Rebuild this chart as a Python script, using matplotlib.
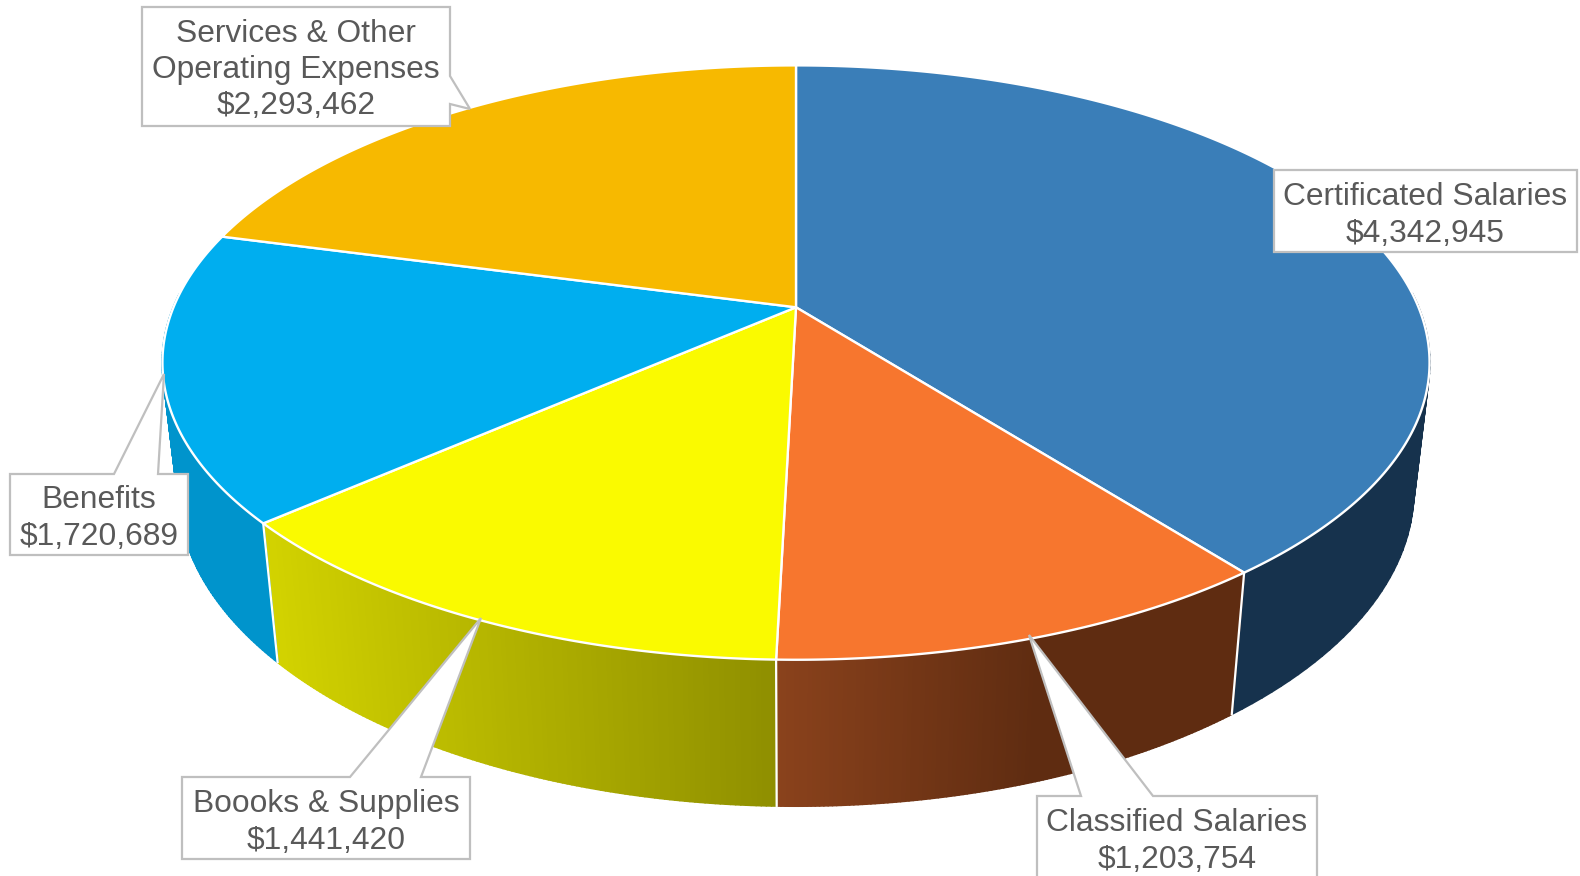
import numpy as np
import matplotlib
matplotlib.use("Agg")
import matplotlib.pyplot as plt
from matplotlib.collections import PolyCollection
from matplotlib.colors import to_rgb

plt.rcParams['font.family'] = ['Liberation Sans', 'DejaVu Sans']

# clockwise from 12 o'clock
names = ["Certificated Salaries", "Classified Salaries", "Boooks & Supplies",
         "Benefits", "Services & Other\nOperating Expenses"]
values = [4342945, 1203754, 1441420, 1720689, 2293462]

top_colors = ["#3a7eb8", "#f7762e", "#fafa00", "#00aeef", "#f7b900"]
# side shading, start of slice -> end of slice
side_start = ["#16324d", "#5f2c11", "#8f8f00", "#0094cc", "#b88a00"]
side_end = ["#16324d", "#8a421c", "#d3d300", "#0094cc", "#b88a00"]

# label boxes x0, x1, y0, y1
boxes = [(1274, 1577, 170, 252), (1037, 1317, 796, 890), (182, 470, 777, 859),
         (10, 188, 474, 555), (142, 450, 7, 126)]
# callout pointers, None = no pointer
pointers = [None,
            ("top", 1081, 1153, (1029, 635)),
            ("top", 350, 421, (481, 618)),
            ("top", 114, 158, (164, 374)),
            ("right", 76, 104, (470, 109))]
text_y = [215.5, 841.5, 822.5, 518.5, 70]

##### PERSPECTIVE OF THE DISC #####
cx, cy = 796, 307.3
rx, ry = 622.5, 286.9
tilt = 0.186
drop = 128
shrink = 0.018
lower_scale = 0.993


def rim(theta, lower=False):
    X, Y = np.sin(theta), np.cos(theta)
    if lower:
        w = 1 + tilt * Y + shrink
        return cx + lower_scale * rx * X / w, cy + (-ry * Y + drop) / w
    w = 1 + tilt * Y
    return cx + rx * X / w, cy - ry * Y / w


fig = plt.figure(figsize=(15.8, 8.76), dpi=100)
ax = fig.add_axes([0, 0, 1, 1])
ax.set_xlim(0, 1580)
ax.set_ylim(876, 0)
ax.axis("off")

edges = np.concatenate([[0], np.cumsum(values)]) / np.sum(values) * 2 * np.pi

##### SIDES #####
for i in range(len(values)):
    t = np.linspace(edges[i], edges[i + 1], 120)
    t = t[np.cos(t) < 0.05]  # back of the disc is hidden, and would leave a halo round the top
    if len(t) < 2:
        continue
    xt, yt = rim(t)
    xb, yb = rim(t, True)
    polys = [[(xt[j], yt[j]), (xt[j + 1], yt[j + 1]), (xb[j + 1], yb[j + 1]), (xb[j], yb[j])]
             for j in range(len(t) - 1)]
    c0, c1 = np.array(to_rgb(side_start[i])), np.array(to_rgb(side_end[i]))
    # gradient runs along x, not along the arc
    f = (xt[:-1] - xt.min()) / max(xt.max() - xt.min(), 1)
    if i == 1:
        f = np.clip((1040 - xt[:-1]) / 260, 0, 1)
    elif i == 2:
        f = 1 - f
    cols = [tuple(c0 + (c1 - c0) * v) for v in f]
    ax.add_collection(PolyCollection(polys, facecolors=cols, edgecolors=cols, linewidths=1.5, zorder=2))
    # white seam at the front corners
    if np.cos(edges[i]) < 0.2:
        x0, y0 = rim(edges[i])
        x1, y1 = rim(edges[i], True)
        ax.plot([x0, x1], [y0, y1], color="white", lw=1.6, zorder=3)

##### TOP FACE #####
for i in range(len(values)):
    t = np.linspace(edges[i], edges[i + 1], 300)
    xt, yt = rim(t)
    ax.fill(np.r_[cx, xt], np.r_[cy, yt], facecolor=top_colors[i], edgecolor="white", lw=1.7,
            joinstyle="round", zorder=4)

##### LABELS #####
for i in range(len(values)):
    x0, x1, y0, y1 = boxes[i]
    p = pointers[i]
    if p is None:
        verts = [(x0, y0), (x1, y0), (x1, y1), (x0, y1)]
    elif p[0] == "top":
        verts = [(x0, y0), (p[1], y0), p[3], (p[2], y0), (x1, y0), (x1, y1), (x0, y1)]
    else:
        verts = [(x0, y0), (x1, y0), (x1, p[1]), p[3], (x1, p[2]), (x1, y1), (x0, y1)]
    ax.add_patch(plt.Polygon(verts, closed=True, facecolor="white", edgecolor="#bfbfbf", lw=1.6, zorder=5))
    ax.text((x0 + x1) / 2, text_y[i], f"{names[i]}\n${values[i]:,}", ha="center", va="center",
            fontsize=22.9, color="#595959", linespacing=1.28, zorder=6)

fig.savefig("out.png", dpi=100)
